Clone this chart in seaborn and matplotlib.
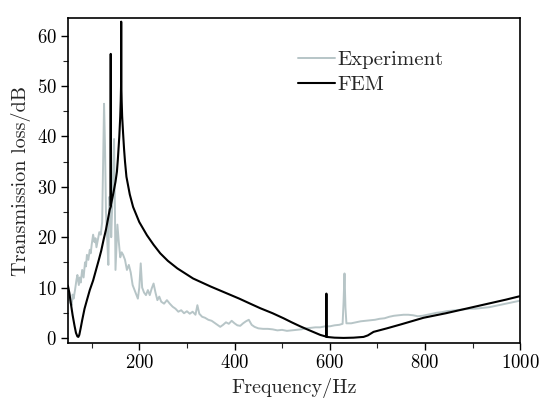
import numpy as np
import pandas as pd
import matplotlib
matplotlib.use("Agg")
import matplotlib.pyplot as plt
import seaborn as sns
from matplotlib.ticker import MultipleLocator

# ---------------- data ----------------
exp_freq = [50, 53, 55, 58, 60, 62, 65, 68, 70, 73, 75, 77, 80, 83, 86, 88, 90, 93, 96, 98, 100,
            103, 106, 108, 110, 113, 116, 119, 122, 124, 126, 128, 130, 132, 135, 137, 139, 141,
            143, 145, 147, 149, 150, 152, 154, 157, 160, 163, 166, 170, 174, 178, 182, 186, 190,
            194, 197, 200, 203, 206, 210, 214, 218, 222, 226, 230, 234, 238, 242, 246, 252, 258,
            264, 270, 276, 282, 288, 294, 300, 306, 312, 318, 322, 326, 332, 338, 345, 352, 358,
            364, 370, 376, 382, 388, 394, 400, 406, 412, 418, 424, 430, 436, 442, 450, 460, 470,
            480, 490, 500, 510, 520, 530, 540, 550, 560, 570, 580, 590, 600, 610, 620, 627, 629,
            631, 633, 635, 645, 655, 665, 675, 685, 695, 705, 715, 725, 735, 745, 755, 765, 775,
            785, 795, 805, 815, 825, 835, 845, 855, 865, 875, 885, 895, 905, 915, 925, 935, 945,
            955, 965, 975, 985, 995, 1000]
exp_tl = [7.5, 8.8, 7.0, 6.5, 8.6, 7.8, 9.5, 11.5, 12.5, 10.5, 12.0, 11.0, 13.5, 12.0, 15.0, 14.2,
          16.5, 15.5, 17.5, 16.8, 18.5, 20.5, 19.0, 19.8, 18.0, 19.5, 21.0, 20.5, 23.0, 35.0,
          46.5, 38.0, 25.0, 21.0, 14.5, 28.0, 27.0, 20.0, 26.0, 33.0, 39.5, 24.0, 13.5, 18.0,
          22.5, 19.0, 16.0, 17.0, 16.5, 15.5, 13.5, 14.5, 13.0, 10.5, 9.5, 8.5, 7.8, 10.0, 14.8,
          10.0, 9.0, 8.5, 9.5, 8.5, 9.8, 10.8, 9.0, 7.5, 8.2, 7.2, 6.8, 7.5, 6.8, 6.2, 5.8, 5.2,
          5.5, 4.9, 5.3, 4.8, 5.2, 4.6, 6.5, 4.8, 4.2, 4.0, 3.6, 3.4, 3.0, 2.6, 2.2, 2.6, 3.1,
          2.8, 3.4, 2.9, 2.5, 2.4, 2.9, 3.3, 3.6, 2.6, 2.2, 1.9, 1.8, 1.8, 1.7, 1.5, 1.6, 1.4,
          1.5, 1.6, 1.7, 1.9, 2.0, 2.1, 2.1, 2.3, 2.3, 2.5, 2.6, 2.8, 7.0, 12.8, 6.0, 2.9, 2.9,
          3.1, 3.3, 3.4, 3.5, 3.6, 3.8, 3.9, 4.2, 4.4, 4.5, 4.6, 4.6, 4.5, 4.3, 4.4, 4.6, 4.8,
          5.0, 5.1, 5.3, 5.4, 5.5, 5.6, 5.7, 5.8, 5.8, 5.9, 6.0, 6.1, 6.3, 6.5, 6.7, 6.9, 7.1,
          7.3, 7.4]

fem_freq = [50, 53, 56, 60, 64, 67, 70, 72, 74, 77, 80, 85, 90, 96, 103, 110, 115, 120, 125, 130,
            135, 138, 139.9, 140, 140.1, 145, 150, 153, 155, 158, 160, 161, 161.9, 162, 162.1,
            163, 164, 166, 168, 170, 173, 180, 187, 200, 216, 230, 244, 260, 280, 313, 350, 385,
            410, 433, 454, 480, 503, 520, 538, 555, 570, 580, 591, 592.9, 593, 593.1, 610, 629,
            650, 671, 680, 692, 720, 750, 797, 844, 900, 970, 1000]
fem_tl = [10.4, 9.0, 7.0, 4.5, 2.4, 1.0, 0.3, 0.2, 0.6, 2.0, 3.5, 5.8, 7.5, 9.5, 11.4, 13.8, 15.5,
          17.3, 19.5, 21.5, 24.0, 25.5, 26.0, 56.4, 26.3, 28.5, 31.0, 33.0, 35.5, 40.0, 44.0,
          47.0, 51.0, 62.8, 51.0, 47.0, 44.0, 40.6, 37.5, 35.0, 32.0, 28.5, 26.0, 23.0, 20.4,
          18.5, 16.8, 15.3, 13.8, 11.8, 10.2, 8.8, 7.8, 6.8, 5.9, 4.9, 3.9, 3.1, 2.3, 1.6, 1.0,
          0.6, 0.3, 0.3, 8.8, 0.2, 0.05, 0.0, 0.05, 0.2, 0.5, 1.2, 1.9, 2.7, 4.0, 4.9, 6.1,
          7.6, 8.3]

series_names = ["Experiment", "FEM"]
xlabel = "Frequency/Hz"
ylabel = "Transmission loss/dB"

# ---------------- style ----------------
sns.set_style("ticks")
plt.rcParams["font.family"] = "serif"
plt.rcParams["font.serif"] = ["cmr10", "DejaVu Serif"]
plt.rcParams["mathtext.fontset"] = "cm"
plt.rcParams["axes.formatter.use_mathtext"] = True

fig = plt.figure(figsize=(5.43, 4.03), dpi=100)
ax = fig.add_axes([0.125, 0.149, 0.833, 0.806])

exp_df = pd.DataFrame({"f": exp_freq, "tl": exp_tl})
fem_df = pd.DataFrame({"f": fem_freq, "tl": fem_tl})

sns.lineplot(data=exp_df, x="f", y="tl", ax=ax, color="#b7c5c7", lw=1.4,
             estimator=None, sort=False, label=series_names[0])
sns.lineplot(data=fem_df, x="f", y="tl", ax=ax, color="black", lw=1.5,
             estimator=None, sort=False, label=series_names[1])

ax.set_xlim(50, 1000)
ax.set_ylim(-1, 63.5)
ax.xaxis.set_major_locator(MultipleLocator(200))
ax.xaxis.set_minor_locator(MultipleLocator(100))
ax.yaxis.set_major_locator(MultipleLocator(10))
ax.yaxis.set_minor_locator(MultipleLocator(5))
ax.tick_params(which="major", direction="out", length=5, width=1, labelsize=13.5,
               colors="black", pad=3)
ax.tick_params(which="minor", direction="out", length=3.5, width=0.8)
for sp in ax.spines.values():
    sp.set_visible(True)
    sp.set_linewidth(1.2)
    sp.set_color("black")

ax.set_xlabel(xlabel, fontsize=14.5, labelpad=4)
ax.set_ylabel(ylabel, fontsize=14.5, labelpad=4)

leg = ax.legend(loc="upper left", bbox_to_anchor=(0.49, 0.925), frameon=False, fontsize=15,
                handlelength=1.8, handletextpad=0.1, labelspacing=0.3, borderaxespad=0)

fig.savefig("out.png", dpi=100)
